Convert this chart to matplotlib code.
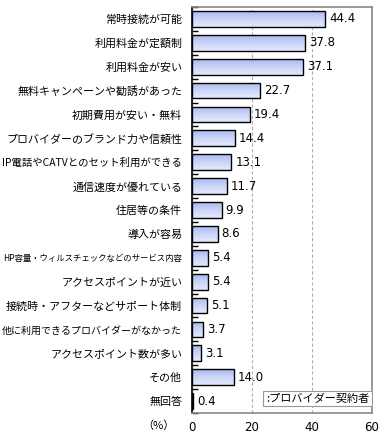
import matplotlib
matplotlib.use("Agg")
import matplotlib.pyplot as plt
import numpy as np
from matplotlib.colors import LinearSegmentedColormap

plt.rcParams['font.family'] = ['Noto Sans CJK JP', 'DejaVu Sans']

categories = [
    "常時接続が可能",
    "利用料金が定額制",
    "利用料金が安い",
    "無料キャンペーンや勧誘があった",
    "初期費用が安い・無料",
    "プロバイダーのブランド力や信頼性",
    "IP電話やCATVとのセット利用ができる",
    "通信速度が優れている",
    "住居等の条件",
    "導入が容易",
    "HP容量・ウィルスチェックなどのサービス内容",
    "アクセスポイントが近い",
    "接続時・アフターなどサポート体制",
    "他に利用できるプロバイダーがなかった",
    "アクセスポイント数が多い",
    "その他",
    "無回答",
]
values = [44.4, 37.8, 37.1, 22.7, 19.4, 14.4, 13.1, 11.7, 9.9, 8.6, 5.4, 5.4, 5.1, 3.7, 3.1, 14.0, 0.4]
xticks = [0, 20, 40, 60]
legend_label = ":プロバイダー契約者"
unit_label = "（%）"

fig = plt.figure(figsize=(3.8, 4.4), dpi=100)
ax = fig.add_axes([192/380, 1-413/440, 180/380, 406/440])

n = len(categories)
y = np.arange(n)
bars = ax.barh(y, values, height=0.66, color="#c3cdf5", edgecolor="black", linewidth=1.0, zorder=3)

# vertical gradient fill inside each bar
cmap = LinearSegmentedColormap.from_list("g", ["#e2e8fd", "#cdd6f8", "#a9b8ee"])
grad = np.linspace(0, 1, 64).reshape(-1, 1)
for b in bars:
    x0, y0 = b.get_x(), b.get_y()
    w, h = b.get_width(), b.get_height()
    im = ax.imshow(grad, cmap=cmap, aspect="auto", extent=(x0, x0 + w, y0, y0 + h),
                   origin="upper", zorder=3.5, interpolation="bilinear")
    im.set_clip_path(b)
    b.set_facecolor("none")
    b.set_zorder(4)

ax.set_xlim(0, 60)
ax.set_ylim(n - 0.5, -0.5)

for yi, v in zip(y, values):
    ax.text(v + 1.3, yi, f"{v:.1f}", va="center", ha="left", fontsize=8.5,
            family="DejaVu Sans", zorder=5)

base_fs = 7.9
ax.set_yticks(y)
ax.set_yticklabels(categories, fontsize=base_fs)
ax.tick_params(axis="y", which="major", length=0, pad=7)
ax.set_yticks(np.arange(n + 1) - 0.5, minor=True)
ax.tick_params(axis="y", which="minor", direction="in", length=4, width=1, color="black")

ax.set_xticks(xticks)
ax.set_xticklabels([str(t) for t in xticks], fontsize=8.5, family="DejaVu Sans")
ax.tick_params(axis="x", length=0, pad=6)

ax.xaxis.grid(True, linestyle=(0, (3, 2)), color="#b0b0b0", linewidth=0.8, zorder=0)
ax.yaxis.grid(False)

for s in ["top", "right", "bottom"]:
    ax.spines[s].set_color("#888888")
    ax.spines[s].set_linewidth(1.2)
ax.spines["left"].set_color("black")
ax.spines["left"].set_linewidth(1.2)

fig.text(158/380, 1-426/440, unit_label, ha="center", va="center", fontsize=8)

ax.text(0.985, 0.023, legend_label, transform=ax.transAxes, ha="right", va="bottom",
        fontsize=8, zorder=6,
        bbox=dict(boxstyle="square,pad=0.25", facecolor="white", edgecolor="#999999", linewidth=0.8))

# shrink only the labels that would run past the left edge
fig.canvas.draw()
renderer = fig.canvas.get_renderer()
for lab in ax.get_yticklabels():
    bb = lab.get_window_extent(renderer)
    if bb.x0 < 2:
        avail = bb.x1 - 2
        lab.set_fontsize(base_fs * avail / bb.width)

fig.savefig("out.png", dpi=100)
